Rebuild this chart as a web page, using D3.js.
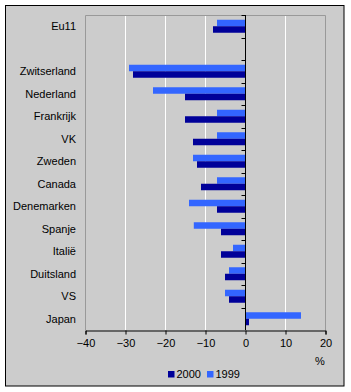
<!DOCTYPE html>
<html>
<head>
<meta charset="utf-8">
<script src="https://cdn.jsdelivr.net/npm/d3@7"></script>
<style>
  body { margin: 0; background: #fff; }
  text { font-family: Arial, "Liberation Sans", sans-serif; font-size: 11px; fill: #000; }
</style>
</head>
<body>
<svg id="chart" width="351" height="392"></svg>
<script>
// categories top to bottom; the empty one is a spacer row
const categories = ["Eu11", "", "Zwitserland", "Nederland", "Frankrijk", "VK", "Zweden",
  "Canada", "Denemarken", "Spanje", "Italië", "Duitsland", "VS", "Japan"];
const values1999 = [-7, null, -29, -23, -7, -7, -13, -7, -14, -12.8, -3, -4, -5, 14];
const values2000 = [-8, null, -28, -15, -15, -13, -12, -11, -7, -6, -6, -5, -4, 1];
const xTicks = [-40, -30, -20, -10, 0, 10, 20];
const seriesNames = ["1999", "2000"];
const seriesColors = { "2000": "#000099", "1999": "#3366ff" };

const svg = d3.select("#chart");
const plot = { left: 85, right: 325, top: 15, bottom: 330 };

// frame
svg.append("rect").attr("x", 5.5).attr("y", 5.5).attr("width", 338.5).attr("height", 380.5)
  .attr("fill", "#cccccc").attr("stroke", "#000").attr("stroke-width", 1);

const x = d3.scaleLinear().domain([-40, 20]).range([plot.left, plot.right]);
const keys = categories.map((c, i) => i);
const y = d3.scaleBand().domain(keys).range([plot.top, plot.bottom]).padding(0);
const ySub = d3.scaleBand().domain(seriesNames).range([4.75, 17.75]).padding(0);

// gridlines
svg.append("g").selectAll("line")
  .data(xTicks.filter(t => t > -40 && t < 20 && t !== 0))
  .join("line")
  .attr("x1", d => Math.round(x(d)) + 0.5).attr("x2", d => Math.round(x(d)) + 0.5)
  .attr("y1", plot.top).attr("y2", plot.bottom)
  .attr("stroke", "#fff");

// plot area border (grey)
svg.append("path")
  .attr("d", `M${plot.left + 0.5},${plot.bottom}V${plot.top + 0.5}H${plot.right + 0.5}V${plot.bottom}`)
  .attr("fill", "none").attr("stroke", "#999");

// bars
const rows = categories.map((c, i) => ({ i, c, "1999": values1999[i], "2000": values2000[i] }));
const groups = svg.append("g").selectAll("g").data(rows).join("g")
  .attr("transform", d => `translate(0,${y(d.i)})`);
groups.selectAll("rect")
  .data(d => seriesNames.filter(s => d[s] !== null).map(s => ({ s, v: d[s] })))
  .join("rect")
  .attr("x", d => x(Math.min(0, d.v)))
  .attr("width", d => Math.abs(x(d.v) - x(0)))
  .attr("y", d => ySub(d.s))
  .attr("height", ySub.bandwidth())
  .attr("fill", d => seriesColors[d.s]);

// category labels
svg.append("g").selectAll("text").data(rows).join("text")
  .attr("x", 76).attr("y", d => y(d.i) + y.bandwidth() / 2)
  .attr("dy", "0.35em").attr("text-anchor", "end")
  .text(d => d.c);

// zero axis with category ticks
const zx = Math.round(x(0)) + 0.5;
svg.append("line").attr("x1", zx).attr("x2", zx).attr("y1", plot.top).attr("y2", plot.bottom)
  .attr("stroke", "#000");
svg.append("g").selectAll("line")
  .data(d3.range(categories.length))
  .join("line")
  .attr("x1", zx - 4).attr("x2", zx)
  .attr("y1", d => Math.round(y(d)) + 0.5).attr("y2", d => Math.round(y(d)) + 0.5)
  .attr("stroke", "#000");

// x axis
const xAxis = svg.append("g").attr("transform", `translate(0.5,${plot.bottom + 0.5})`)
  .call(d3.axisBottom(x).tickValues(xTicks).tickSize(4).tickPadding(5));
xAxis.select(".domain").attr("stroke", "#000");
xAxis.selectAll(".tick line").attr("stroke", "#000");
xAxis.selectAll("text").style("font-family", "Arial, 'Liberation Sans', sans-serif")
  .style("font-size", "11px").attr("fill", "#000");

svg.append("text").attr("x", 320).attr("y", 361).attr("dy", "0.35em")
  .attr("text-anchor", "middle").text("%");

// legend
const legendItems = [{ s: "2000", x: 168 }, { s: "1999", x: 207 }];
const lg = svg.append("g").selectAll("g").data(legendItems).join("g")
  .attr("transform", d => `translate(${d.x},371)`);
lg.append("rect").attr("width", 6.5).attr("height", 6.5).attr("fill", d => seriesColors[d.s]);
lg.append("text").attr("x", 8.5).attr("y", 3.5).attr("dy", "0.35em").text(d => d.s);
</script>
</body>
</html>
